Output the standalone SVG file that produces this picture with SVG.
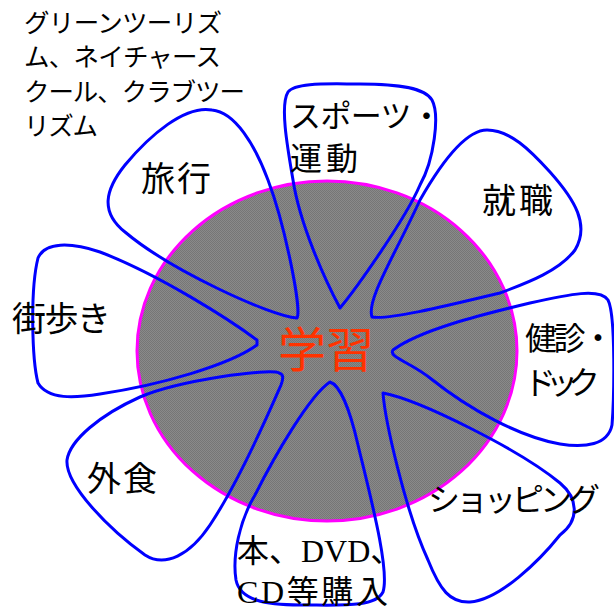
<svg xmlns="http://www.w3.org/2000/svg" width="614" height="609" viewBox="0 0 614 609">
<style>
.petal{fill:none;stroke:#0000ff;stroke-width:3;stroke-linejoin:round}
.lbl{font-family:"Noto Sans CJK JP","Noto Sans",sans-serif;fill:#000}
.big{font-size:34px}
.sm{font-size:25.5px}
.ser{font-family:"Liberation Serif","Noto Sans CJK JP",serif;font-size:32px;fill:#000}
</style>
<defs>
<pattern id="chk" width="2" height="2" patternUnits="userSpaceOnUse">
<rect width="2" height="2" fill="#8a8a8a"/>
<rect width="1" height="1" fill="#767676"/>
<rect x="1" y="1" width="1" height="1" fill="#767676"/>
</pattern>
</defs>
<g id="center">
<ellipse cx="327" cy="351" rx="190" ry="170" fill="url(#chk)" stroke="#ff00ff" stroke-width="3"/>
</g>
<g id="connectors">
<path id="p-travel" class="petal" d="M297,318 C270,316 170,270 125,232 C100,212 105,190 125,165 C150,135 185,105 212,110 C235,112 255,145 268,180 C285,225 302,310 297,318 Z"/>
<path id="p-sports" class="petal" d="M340,308 C325,280 300,225 293,180 C287,145 280,105 288,92 C295,82 330,84 360,84 C400,84 425,88 432,100 C440,115 434,160 420,185 C405,220 355,290 340,308 Z"/>
<path id="p-job" class="petal" d="M372,317 C366,300 395,255 420,200 C440,165 465,130 487,130 C510,130 530,150 550,172 C575,200 590,225 575,250 C560,270 530,282 500,293 C450,305 390,320 372,317 Z"/>
<path id="p-health" class="petal" d="M393,350 C420,330 480,315 530,303 C570,294 600,288 608,300 C616,315 614,400 612,425 C608,445 585,448 560,444 C520,437 470,410 430,378 C410,362 388,357 393,350 Z"/>
<path id="p-shop" class="petal" d="M383,393 C420,400 520,450 560,483 C578,498 580,520 560,535 C540,560 500,600 470,602 C450,603 440,590 428,560 C405,510 385,420 383,393 Z"/>
<path id="p-book" class="petal" d="M330,382 C340,385 350,410 358,445 C370,495 390,570 383,592 C375,608 340,605 300,605 C265,605 240,600 236,580 C232,555 240,520 255,495 C275,455 310,395 330,382 Z"/>
<path id="p-food" class="petal" d="M279,373 C270,368 180,380 140,397 C100,415 70,440 67,460 C65,485 110,530 145,555 C165,568 190,555 210,525 C240,480 270,410 281,385 C284,377 283,374 279,373 Z"/>
<path id="p-walk" class="petal" d="M257,340 C230,320 160,275 100,252 C70,242 45,242 38,258 C30,290 32,360 38,383 C48,400 75,398 100,394 C160,385 230,365 257,345 Z"/>
</g>
<g id="n-center-label">
<text x="326" y="367" text-anchor="middle" font-family="'Noto Sans CJK JP',sans-serif" font-size="48" fill="#ff3300">学習</text>
</g>
<g id="n-green">
<text class="lbl sm" x="24" y="32" textLength="198" lengthAdjust="spacing">グリーンツーリズ</text>
<text class="lbl sm" x="24" y="66" textLength="197" lengthAdjust="spacing">ム、ネイチャース</text>
<text class="lbl sm" x="24" y="101" textLength="221" lengthAdjust="spacing">クール、クラブツー</text>
<text class="lbl sm" x="24" y="135" textLength="74" lengthAdjust="spacing">リズム</text>
</g>
<g id="n-travel"><text class="lbl big" x="141" y="191" textLength="70" lengthAdjust="spacing">旅行</text></g>
<g id="n-sports">
<text class="lbl" font-size="31" x="290" y="127" textLength="152" lengthAdjust="spacing">スポーツ・</text>
<text class="lbl" font-size="32" x="290" y="170" textLength="68" lengthAdjust="spacing">運動</text>
</g>
<g id="n-job"><text class="lbl big" x="482" y="213" textLength="71" lengthAdjust="spacing">就職</text></g>
<g id="n-health">
<text class="lbl" font-size="32" x="525" y="350" textLength="89" lengthAdjust="spacing">健診・</text>
<text class="lbl" font-size="32" x="524" y="394" textLength="76" lengthAdjust="spacing">ドック</text>
</g>
<g id="n-shop"><text class="lbl" font-size="32" x="428" y="511" textLength="172" lengthAdjust="spacing">ショッピング</text></g>
<g id="n-book">
<text class="ser" x="237" y="562">本、DVD、</text>
<text class="ser" x="237" y="603" textLength="151" lengthAdjust="spacing">CD等購入</text>
</g>
<g id="n-food"><text class="lbl big" x="87" y="491" textLength="70" lengthAdjust="spacing">外食</text></g>
<g id="n-walk"><text class="lbl big" x="12" y="331" textLength="99" lengthAdjust="spacing">街歩き</text></g>
</svg>
